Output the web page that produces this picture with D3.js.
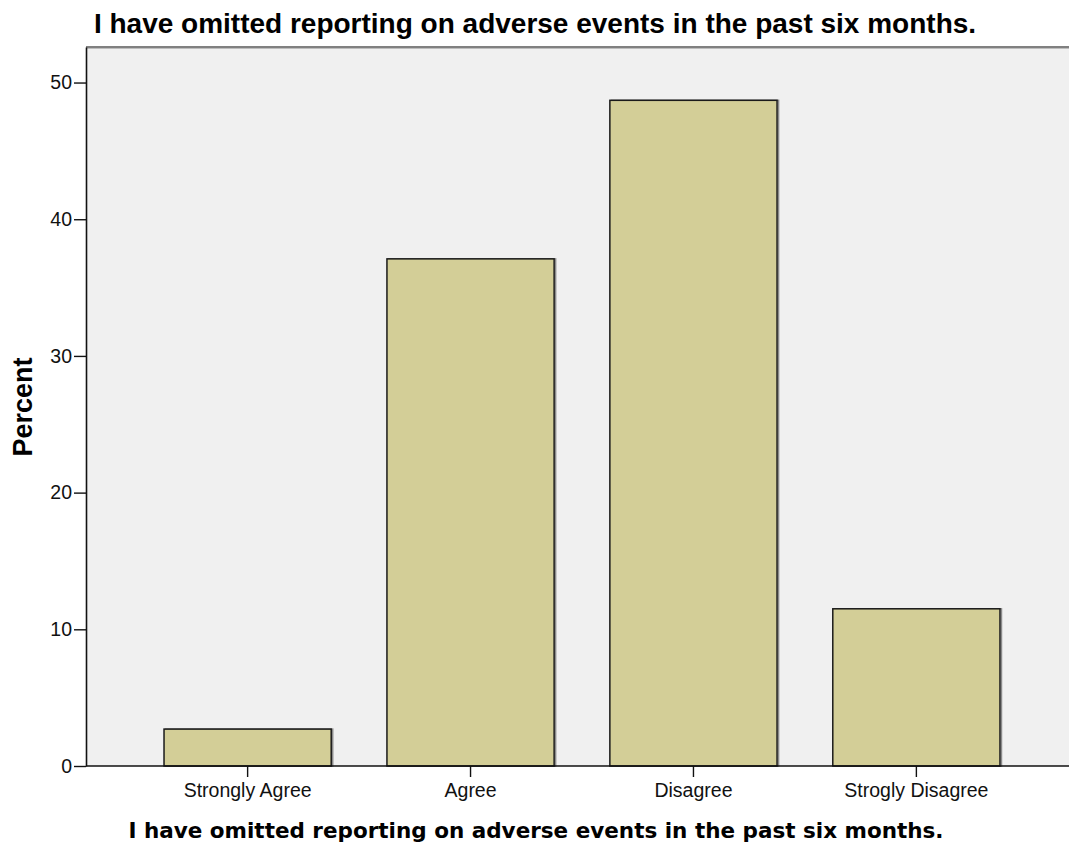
<!DOCTYPE html>
<html>
<head>
<meta charset="utf-8">
<script src="https://cdn.jsdelivr.net/npm/d3@7"></script>
<style>
  html, body { margin: 0; padding: 0; background: #ffffff; }
  svg { display: block; }
</style>
</head>
<body>
<svg id="chart" width="1069" height="845"></svg>
<script>
const chartTitle = "I have omitted reporting on adverse events in the past six months.";
const xAxisTitle = "I have omitted reporting on adverse events in the past six months.";
const yAxisTitle = "Percent";
const categories = ["Strongly Agree", "Agree", "Disagree", "Strogly Disagree"];
const percents = [2.7, 37.1, 48.7, 11.5];
const yTicks = [0, 10, 20, 30, 40, 50];

const svg = d3.select("#chart");
const W = 1069, H = 845;
const plot = { left: 86, top: 47, right: 1078, bottom: 766 };

const x = d3.scaleBand()
  .domain(categories)
  .range([plot.left, plot.right])
  .paddingInner(0.25)
  .paddingOuter(0.35);

const y = d3.scaleLinear()
  .domain([0, 52.6])
  .range([plot.bottom, plot.top]);

// plot background
svg.append("rect")
  .attr("x", plot.left).attr("y", plot.top)
  .attr("width", W - plot.left).attr("height", plot.bottom - plot.top)
  .attr("fill", "#f0f0f0");

// top frame line
svg.append("line")
  .attr("x1", plot.left).attr("x2", W)
  .attr("y1", plot.top + 0.5).attr("y2", plot.top + 0.5)
  .attr("stroke", "#bdbdbd").attr("stroke-width", 3);
svg.append("line")
  .attr("x1", plot.left).attr("x2", W)
  .attr("y1", plot.top).attr("y2", plot.top)
  .attr("stroke", "#444").attr("stroke-width", 1.2);

// bars
const bars = svg.append("g");
bars.selectAll("rect.shadow")
  .data(categories)
  .join("rect")
  .attr("class", "shadow")
  .attr("x", d => x(d) + 1.5)
  .attr("y", (d, i) => y(percents[i]))
  .attr("width", x.bandwidth())
  .attr("height", (d, i) => y(0) - y(percents[i]))
  .attr("fill", "none")
  .attr("stroke", "#8a8a8a")
  .attr("stroke-width", 1.5);
bars.selectAll("rect.bar")
  .data(categories)
  .join("rect")
  .attr("class", "bar")
  .attr("x", d => x(d))
  .attr("y", (d, i) => y(percents[i]))
  .attr("width", x.bandwidth())
  .attr("height", (d, i) => y(0) - y(percents[i]))
  .attr("fill", "#d3ce97")
  .attr("stroke", "#1a1a1a")
  .attr("stroke-width", 1.5);

// y axis
const yAxis = d3.axisLeft(y).tickValues(yTicks).tickSize(12).tickPadding(2).tickSizeOuter(0);
const gy = svg.append("g").attr("transform", `translate(${plot.left},0)`).call(yAxis);
gy.select(".domain").attr("stroke", "#111").attr("stroke-width", 1.6);
gy.selectAll(".tick line").attr("stroke", "#111").attr("stroke-width", 1.4);
gy.selectAll(".tick text")
  .attr("font-family", "'Liberation Sans', Arial, sans-serif")
  .attr("font-size", 19.5).attr("fill", "#111");

// x axis
const xAxis = d3.axisBottom(x).tickSize(11).tickPadding(6).tickSizeOuter(0);
const gx = svg.append("g").attr("transform", `translate(0,${plot.bottom})`).call(xAxis);
gx.select(".domain").attr("stroke", "#111").attr("stroke-width", 1.6)
  .attr("d", `M${plot.left},0H${W}`);
gx.selectAll(".tick line").attr("stroke", "#111").attr("stroke-width", 1.4);
gx.selectAll(".tick text")
  .attr("font-family", "'Liberation Sans', Arial, sans-serif")
  .attr("font-size", 19.5).attr("fill", "#111");

// chart title
svg.append("text")
  .attr("x", 535).attr("y", 33)
  .attr("text-anchor", "middle")
  .attr("font-family", "'Liberation Sans', Arial, sans-serif")
  .attr("font-weight", "bold")
  .attr("font-size", 28)
  .attr("fill", "#000")
  .text(chartTitle);

// x axis title
svg.append("text")
  .attr("x", 536).attr("y", 838)
  .attr("text-anchor", "middle")
  .attr("font-family", "'DejaVu Sans', Verdana, sans-serif")
  .attr("font-weight", "bold")
  .attr("font-size", 21.5)
  .attr("fill", "#000")
  .text(xAxisTitle);

// y axis title
svg.append("text")
  .attr("transform", "translate(32,407) rotate(-90)")
  .attr("text-anchor", "middle")
  .attr("font-family", "'Liberation Sans', Arial, sans-serif")
  .attr("font-weight", "bold")
  .attr("font-size", 27)
  .attr("fill", "#000")
  .text(yAxisTitle);
</script>
</body>
</html>
